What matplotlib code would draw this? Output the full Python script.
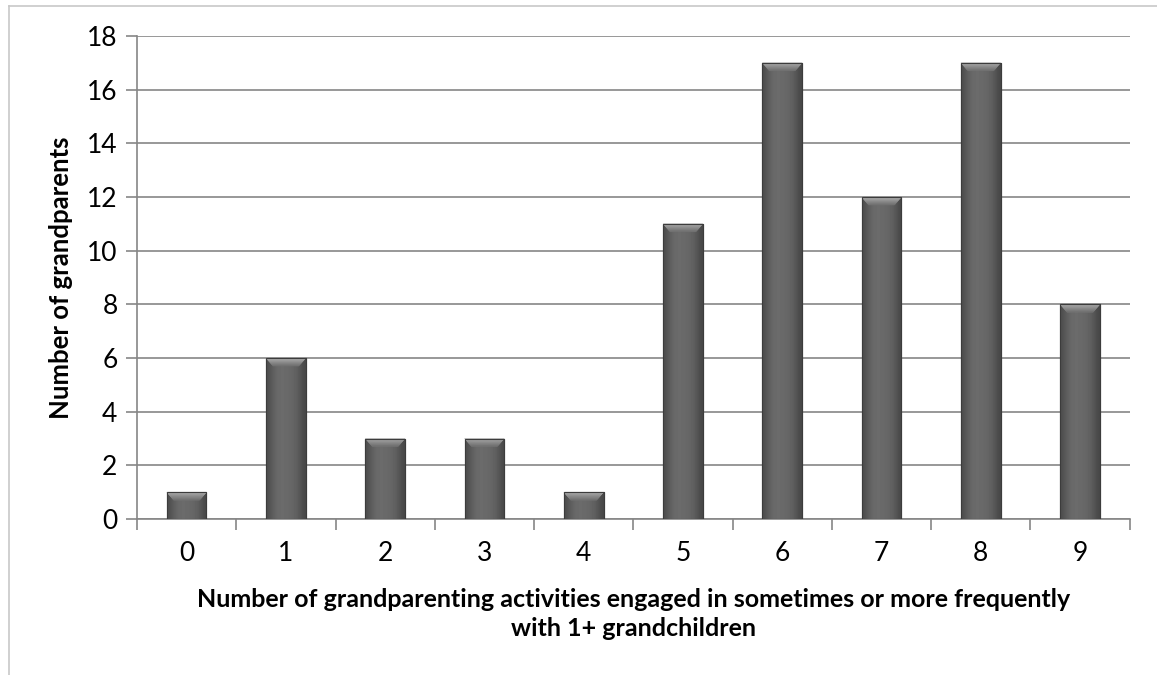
import numpy as np
import matplotlib
matplotlib.use('Agg')
import matplotlib.pyplot as plt
from matplotlib.patches import Polygon
from matplotlib.lines import Line2D

# counts per number of activities
activities = ['0', '1', '2', '3', '4', '5', '6', '7', '8', '9']
grandparents = [1, 6, 3, 3, 1, 11, 17, 12, 17, 8]

plt.rcParams['font.family'] = ['Lato', 'DejaVu Sans']

fig = plt.figure(figsize=(11.57, 6.75), dpi=100)
ax = fig.add_axes([0.1184, 0.2311, 0.858, 0.7156])

x = np.arange(len(activities))
bar_w = 0.4
bars = ax.bar(x, grandparents, width=bar_w, color='#5a5a5a',
              edgecolor='#3c3c3c', linewidth=0.8, zorder=3)

# horizontal shading inside each bar, plus a light bevel on the top
shade = np.array([0.30, 0.36, 0.40, 0.42, 0.42, 0.41, 0.40, 0.38, 0.34, 0.28])
grad = np.tile(shade, (2, 1))
bevel_h = 0.3
inset = 0.07
n_strips = 8
for b, v in zip(bars, grandparents):
    x0 = b.get_x()
    x1 = x0 + b.get_width()
    im = ax.imshow(grad, cmap='gray', vmin=0, vmax=1, aspect='auto',
                   extent=(x0, x1, 0, v), zorder=3.1, interpolation='bicubic')
    im.set_clip_path(b)
    # bevel built from thin trapezoid strips, light at the top edge
    for k in range(n_strips):
        f0 = k / n_strips
        f1 = (k + 1) / n_strips
        g = 0.68 - 0.26 * f0
        pts = [(x0 + inset * f0, v - bevel_h * f0), (x1 - inset * f0, v - bevel_h * f0),
               (x1 - inset * f1, v - bevel_h * f1), (x0 + inset * f1, v - bevel_h * f1)]
        ax.add_patch(Polygon(pts, closed=True, facecolor=(g, g, g),
                             edgecolor=(g, g, g), linewidth=0.3, zorder=3.2))
    ax.add_patch(Polygon([(x0, 0), (x1, 0), (x1, v), (x0, v)], closed=True,
                         facecolor='none', edgecolor='#3c3c3c', linewidth=0.8,
                         zorder=3.4))

ax.set_xlim(-0.5, 9.5)
ax.set_ylim(0, 18)
ax.set_yticks(np.arange(0, 19, 2))
ax.set_xticks(x)
ax.set_xticklabels(activities)
ax.set_xticks(np.arange(-0.5, 10, 1), minor=True)
ax.tick_params(axis='x', which='major', length=0, pad=16, labelsize=19)
ax.tick_params(axis='x', which='minor', length=8, color='#868686', width=1.2)
ax.tick_params(axis='y', length=8, color='#868686', width=1.2, labelsize=19, pad=6)

ax.grid(axis='y', color='#868686', linewidth=1.2, zorder=0)
ax.set_axisbelow(True)
for side in ['top', 'right']:
    ax.spines[side].set_visible(False)
for side in ['left', 'bottom']:
    ax.spines[side].set_color('#868686')
    ax.spines[side].set_linewidth(1.2)

ax.set_ylabel('Number of grandparents', fontsize=18.5, fontweight='bold', labelpad=10)
ax.set_xlabel('Number of grandparenting activities engaged in sometimes or more frequently\n'
              'with 1+ grandchildren', fontsize=18, fontweight='bold', labelpad=16,
              linespacing=1.3)

# outer frame lines
fig.add_artist(Line2D([9 / 1157, 1], [1 - 6 / 675, 1 - 6 / 675], color='#c8c8c8', linewidth=1.2))
fig.add_artist(Line2D([9 / 1157, 9 / 1157], [0, 1 - 6 / 675], color='#c8c8c8', linewidth=1.2))

fig.savefig('out.png', dpi=100)
